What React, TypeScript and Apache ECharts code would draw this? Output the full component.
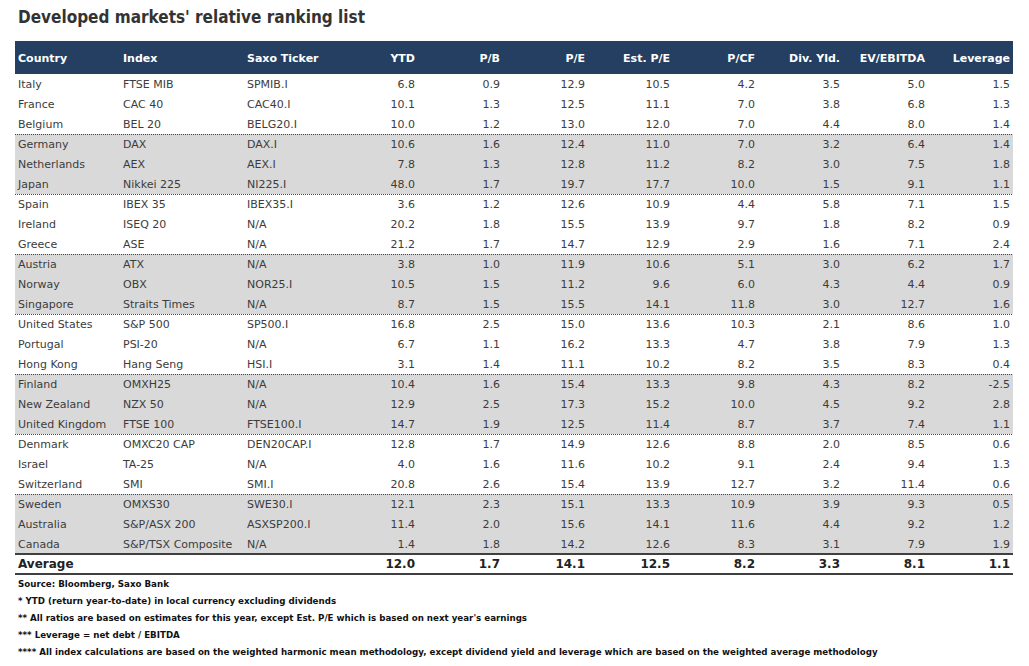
import React, { useEffect, useRef } from "react";
import * as echarts from "echarts";

const TITLE = "Developed markets' relative ranking list";
const HEADERS = ["Country", "Index", "Saxo Ticker", "YTD", "P/B", "P/E", "Est. P/E", "P/CF", "Div. Yld.", "EV/EBITDA", "Leverage"];

const countries = ["Italy", "France", "Belgium", "Germany", "Netherlands", "Japan", "Spain", "Ireland", "Greece", "Austria", "Norway", "Singapore", "United States", "Portugal", "Hong Kong", "Finland", "New Zealand", "United Kingdom", "Denmark", "Israel", "Switzerland", "Sweden", "Australia", "Canada"];
const indices = ["FTSE MIB", "CAC 40", "BEL 20", "DAX", "AEX", "Nikkei 225", "IBEX 35", "ISEQ 20", "ASE", "ATX", "OBX", "Straits Times", "S&P 500", "PSI-20", "Hang Seng", "OMXH25", "NZX 50", "FTSE 100", "OMXC20 CAP", "TA-25", "SMI", "OMXS30", "S&P/ASX 200", "S&P/TSX Composite"];
const tickers = ["SPMIB.I", "CAC40.I", "BELG20.I", "DAX.I", "AEX.I", "NI225.I", "IBEX35.I", "N/A", "N/A", "N/A", "NOR25.I", "N/A", "SP500.I", "N/A", "HSI.I", "N/A", "N/A", "FTSE100.I", "DEN20CAP.I", "N/A", "SMI.I", "SWE30.I", "ASXSP200.I", "N/A"];
const ytd = [6.8, 10.1, 10.0, 10.6, 7.8, 48.0, 3.6, 20.2, 21.2, 3.8, 10.5, 8.7, 16.8, 6.7, 3.1, 10.4, 12.9, 14.7, 12.8, 4.0, 20.8, 12.1, 11.4, 1.4];
const pb = [0.9, 1.3, 1.2, 1.6, 1.3, 1.7, 1.2, 1.8, 1.7, 1.0, 1.5, 1.5, 2.5, 1.1, 1.4, 1.6, 2.5, 1.9, 1.7, 1.6, 2.6, 2.3, 2.0, 1.8];
const pe = [12.9, 12.5, 13.0, 12.4, 12.8, 19.7, 12.6, 15.5, 14.7, 11.9, 11.2, 15.5, 15.0, 16.2, 11.1, 15.4, 17.3, 12.5, 14.9, 11.6, 15.4, 15.1, 15.6, 14.2];
const estPe = [10.5, 11.1, 12.0, 11.0, 11.2, 17.7, 10.9, 13.9, 12.9, 10.6, 9.6, 14.1, 13.6, 13.3, 10.2, 13.3, 15.2, 11.4, 12.6, 10.2, 13.9, 13.3, 14.1, 12.6];
const pcf = [4.2, 7.0, 7.0, 7.0, 8.2, 10.0, 4.4, 9.7, 2.9, 5.1, 6.0, 11.8, 10.3, 4.7, 8.2, 9.8, 10.0, 8.7, 8.8, 9.1, 12.7, 10.9, 11.6, 8.3];
const divYld = [3.5, 3.8, 4.4, 3.2, 3.0, 1.5, 5.8, 1.8, 1.6, 3.0, 4.3, 3.0, 2.1, 3.8, 3.5, 4.3, 4.5, 3.7, 2.0, 2.4, 3.2, 3.9, 4.4, 3.1];
const evEbitda = [5.0, 6.8, 8.0, 6.4, 7.5, 9.1, 7.1, 8.2, 7.1, 6.2, 4.4, 12.7, 8.6, 7.9, 8.3, 8.2, 9.2, 7.4, 8.5, 9.4, 11.4, 9.3, 9.2, 7.9];
const leverage = [1.5, 1.3, 1.4, 1.4, 1.8, 1.1, 1.5, 0.9, 2.4, 1.7, 0.9, 1.6, 1.0, 1.3, 0.4, -2.5, 2.8, 1.1, 0.6, 1.3, 0.6, 0.5, 1.2, 1.9];
const AVG_LABEL = "Average";
const averages = [12.0, 1.7, 14.1, 12.5, 8.2, 3.3, 8.1, 1.1];

const FOOTNOTES = [
  "Source: Bloomberg, Saxo Bank",
  "* YTD (return year-to-date) in local currency excluding dividends",
  "** All ratios are based on estimates for this year, except Est. P/E which is based on next year's earnings",
  "*** Leverage = net debt / EBITDA",
  "**** All index calculations are based on the weighted harmonic mean methodology, except dividend yield and leverage which are based on the weighted average methodology",
];

const numCols = [ytd, pb, pe, estPe, pcf, divYld, evEbitda, leverage];

// layout
const LEFT = 15;
const RIGHT = 1013;
const TEXT_LEFTS = [18, 123, 247];
const NUM_RIGHT0 = 415;
const NUM_STEP = 85;
const HEADER_TOP = 41;
const HEADER_H = 33;
const ROW_H = 20;
const GROUP = 3;
const FONT = "DejaVu Sans";
const TXT = "#3c3c3c";

export default function App() {
  const ref = useRef<HTMLDivElement>(null);
  useEffect(() => {
    if (!ref.current) return;
    const chart = echarts.init(ref.current, undefined, { renderer: "svg" });
    const g: any[] = [];
    const text = (s: string, x: number, y: number, opts: any = {}) => ({
      type: "text",
      x,
      y,
      silent: true,
      style: {
        text: s,
        fill: opts.fill || TXT,
        font: opts.font || `11px "${FONT}"`,
        textAlign: opts.align || "left",
        textVerticalAlign: "middle",
        align: opts.align || "left",
        verticalAlign: "middle",
      },
    });

    g.push(text(TITLE, 18, 17, { font: `bold 17px "DejaVu Sans Condensed"`, fill: "#333" }));
    g.push({ type: "rect", silent: true, shape: { x: LEFT, y: HEADER_TOP, width: RIGHT - LEFT, height: HEADER_H }, style: { fill: "#243f61" } });
    const hy = HEADER_TOP + HEADER_H / 2 + 0.5;
    HEADERS.forEach((h, i) => {
      if (i < 3) g.push(text(h, TEXT_LEFTS[i], hy, { fill: "#fff", font: `bold 11px "${FONT}"` }));
      else g.push(text(h, NUM_RIGHT0 + (i - 3) * NUM_STEP, hy, { fill: "#fff", font: `bold 11px "${FONT}"`, align: "right" }));
    });

    const top0 = HEADER_TOP + HEADER_H;
    const n = countries.length;
    for (let gi = 0; gi < n / GROUP; gi++) {
      if (gi % 2 === 1) {
        g.push({ type: "rect", silent: true, shape: { x: LEFT, y: top0 + gi * GROUP * ROW_H, width: RIGHT - LEFT, height: GROUP * ROW_H }, style: { fill: "#d9d9d9" } });
      }
    }
    for (let gi = 1; gi < n / GROUP; gi++) {
      const y = top0 + gi * GROUP * ROW_H + 0.5;
      g.push({ type: "line", silent: true, shape: { x1: LEFT, y1: y, x2: RIGHT, y2: y }, style: { stroke: "#444", lineWidth: 1, lineDash: [1, 1] } });
    }
    for (let r = 0; r < n; r++) {
      const cy = top0 + r * ROW_H + ROW_H / 2;
      g.push(text(countries[r], TEXT_LEFTS[0], cy));
      g.push(text(indices[r], TEXT_LEFTS[1], cy));
      g.push(text(tickers[r], TEXT_LEFTS[2], cy));
      numCols.forEach((col, ci) => {
        g.push(text(col[r].toFixed(1), NUM_RIGHT0 + ci * NUM_STEP, cy, { align: "right" }));
      });
    }
    const avgTop = top0 + n * ROW_H;
    g.push({ type: "line", silent: true, shape: { x1: LEFT, y1: avgTop, x2: RIGHT, y2: avgTop }, style: { stroke: "#404040", lineWidth: 2 } });
    g.push({ type: "line", silent: true, shape: { x1: LEFT, y1: avgTop + ROW_H, x2: RIGHT, y2: avgTop + ROW_H }, style: { stroke: "#404040", lineWidth: 2 } });
    const acy = avgTop + ROW_H / 2;
    g.push(text(AVG_LABEL, TEXT_LEFTS[0], acy, { font: `bold 12px "${FONT}"`, fill: "#222" }));
    averages.forEach((v, ci) => {
      g.push(text(v.toFixed(1), NUM_RIGHT0 + ci * NUM_STEP, acy, { align: "right", font: `bold 12px "${FONT}"`, fill: "#222" }));
    });
    FOOTNOTES.forEach((f, i) => {
      g.push(text(f, 18, 584 + i * 17, { font: `bold 8.7px "${FONT}"`, fill: "#111" }));
    });

    chart.setOption({ animation: false, graphic: g });
    return () => chart.dispose();
  }, []);
  return <div ref={ref} style={{ position: "fixed", left: 0, top: 0, width: 1029, height: 666, background: "#fff" }} />;
}
